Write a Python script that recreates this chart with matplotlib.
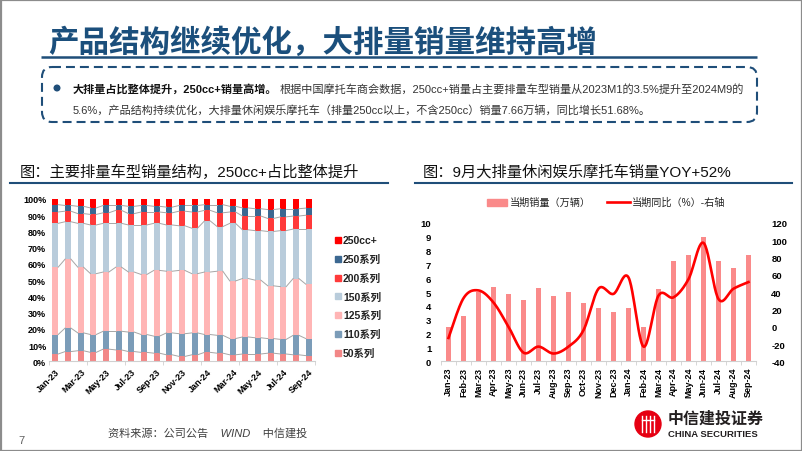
import numpy as np
import matplotlib
matplotlib.use('Agg')
import matplotlib.pyplot as plt
from matplotlib.patches import Rectangle, FancyBboxPatch, Circle
from matplotlib.ticker import FixedLocator

plt.rcParams['font.family'] = ['Liberation Sans', 'Noto Sans CJK SC', 'DejaVu Sans']
plt.rcParams['axes.unicode_minus'] = False

# ---------------- data ----------------
months = ['Jan-23', 'Feb-23', 'Mar-23', 'Apr-23', 'May-23', 'Jun-23', 'Jul-23',
          'Aug-23', 'Sep-23', 'Oct-23', 'Nov-23', 'Dec-23', 'Jan-24', 'Feb-24',
          'Mar-24', 'Apr-24', 'May-24', 'Jun-24', 'Jul-24', 'Aug-24', 'Sep-24']

# share of sales by displacement class (%)
share_50 = [4.5, 6, 6.5, 5.5, 7.5, 7, 6, 5.5, 5, 4, 3, 4, 5.5, 5, 4, 4.5, 4.5, 5, 4.5, 4, 3.5]
share_110 = [12, 14.5, 11, 11, 11, 11.5, 12, 11, 10.5, 13.5, 14, 13.5, 11, 11, 10, 10.5, 10, 9, 9, 12, 10.5]
share_125 = [41.5, 42.5, 40.5, 37.5, 36.5, 39.5, 37, 37, 40.5, 38, 39, 36.5, 38.5, 39.5, 35.5, 36, 35.5, 32.5, 32.5, 35, 33.5]
share_150 = [27, 23, 27, 30, 30, 27, 29, 30.5, 29, 28.5, 27.5, 28, 31.5, 27.5, 35.5, 30, 30.5, 33.5, 34.5, 30.5, 34]
share_200 = [7, 6.5, 6, 6.5, 6.5, 8, 7, 8, 7, 7.5, 9, 10, 6.5, 8.5, 7, 8.5, 9, 8, 8.5, 8, 8.5]
share_250 = [4.5, 3.5, 4.5, 4, 4.5, 3, 4.5, 4, 3.5, 3.5, 3.5, 4, 3.5, 5, 3.5, 5, 4.5, 5.5, 5, 4.5, 4.4]
share_250p = [3.5, 4, 4.5, 5.5, 4, 4, 4.5, 4, 4.5, 5, 4, 4, 3.5, 3.5, 4.5, 5.5, 6, 6.5, 6, 6, 5.6]

series_names = ['50系列', '110系列', '125系列', '150系列', '200系列', '250系列', '250cc+']
series_vals = [share_50, share_110, share_125, share_150, share_200, share_250, share_250p]
series_colors = ['#F28787', '#7B9CB8', '#FFB5B5', '#B9CCDB', '#FF3A3A', '#3C6891', '#FF0000']

# big-displacement leisure motorcycles
sales = [2.45, 3.25, 5.0, 5.4, 4.87, 4.46, 5.3, 4.75, 5.0, 4.2, 3.83, 3.54, 3.83, 2.46,
         5.23, 7.23, 7.69, 8.96, 7.23, 6.77, 7.66]
yoy = [-13, 33, 42, 28, 0, -30, -23, -31, -23, -4, 44, 38, 57, -23,
       36, 34, 55, 97, 32, 44, 51.68]

BLUE = '#1F4E79'

fig = plt.figure(figsize=(8.02, 4.52), dpi=100)

# overlay in pixel coordinates
ov = fig.add_axes([0, 0, 1, 1])
ov.set_xlim(0, 802)
ov.set_ylim(452, 0)
ov.axis('off')

ov.add_patch(Rectangle((0.5, 0.5), 801, 451, fill=False, ec='#8C8C8C', lw=1.6))

ov.text(48, 43, '产品结构继续优化，大排量销量维持高增', fontsize=22, fontweight='bold',
        color='#1B4F7C', va='center', ha='left', family=['Noto Sans CJK SC'])
ov.plot([41, 757], [58, 58], color=BLUE, lw=1.8, solid_capstyle='butt')

ov.add_patch(FancyBboxPatch((42, 68), 715, 55, boxstyle='round,pad=0,rounding_size=10',
                            fill=False, ec=BLUE, lw=1.5, ls=(0, (4.3, 2.4))))
ov.add_patch(Circle((57, 89), 2.8, color=BLUE))

bold_part = '大排量占比整体提升，250cc+销量高增。'
normal_part = '根据中国摩托车商会数据，250cc+销量占主要排量车型销量从2023M1的3.5%提升至2024M9的'
line2 = '5.6%，产品结构持续优化，大排量休闲娱乐摩托车（排量250cc以上，不含250cc）销量7.66万辆，同比增长51.68%。'
t1 = ov.text(73, 89, bold_part, fontsize=8, fontweight='bold', color='#111111',
             va='center', ha='left')
fig.canvas.draw()
bb = t1.get_window_extent(fig.canvas.get_renderer())
ov.text(bb.x1 + 2, 89, normal_part, fontsize=8, color='#333333', va='center', ha='left')
ov.text(73, 110, line2, fontsize=8, color='#333333', va='center', ha='left')

# subtitles
ov.text(20, 172, '图：主要排量车型销量结构，250cc+占比整体提升', fontsize=11, color='#111111',
        va='center', ha='left')
ov.plot([10, 388], [184, 184], color=BLUE, lw=1.5)
ov.text(423, 172, '图：9月大排量休闲娱乐摩托车销量YOY+52%', fontsize=11, color='#111111',
        va='center', ha='left')
ov.plot([415, 792], [184, 184], color=BLUE, lw=1.5)

# footer
ov.text(108, 433, '资料来源：公司公告    WIND    中信建投', fontsize=8, color='#404040',
        va='center', ha='left', style='italic')
ov.text(18, 441, '7', fontsize=8, color='#606060', va='center', ha='left')

# logo
ov.add_patch(Circle((648, 425), 13, color='#E60012'))
for dx in (-6, -2, 2, 6):
    ov.plot([648 + dx, 648 + dx], [417, 433], color='white', lw=1.0)
ov.plot([642, 654], [421, 421], color='white', lw=1.0)
ov.text(668, 419, '中信建投证券', fontsize=11.5, fontweight='bold', color='#231F20',
        va='center', ha='left', family=['Noto Sans CJK SC'])
ov.text(668, 435, 'CHINA SECURITIES', fontsize=6.8, fontweight='bold', color='#231F20',
        va='center', ha='left')

# ---------------- left chart ----------------
x = np.arange(len(months))
axL = fig.add_axes([49 / 802, (452 - 362.3) / 452, 266 / 802, 162.3 / 452])
axL.patch.set_alpha(0)
w = 0.45
bottom = np.zeros(len(months))
for name, vals, col in zip(series_names, series_vals, series_colors):
    v = np.array(vals) / 100.0
    axL.bar(x, v, w, bottom=bottom, color=col, zorder=2)
    bottom = bottom + v
    if name != '250cc+':
        for i in range(len(x) - 1):
            axL.plot([x[i] + w / 2, x[i + 1] - w / 2], [bottom[i], bottom[i + 1]],
                     color='#A6A6A6', lw=0.7, zorder=3)
axL.set_xlim(-0.5, len(months) - 0.5)
axL.set_ylim(0, 1)
axL.set_yticks(np.linspace(0, 1, 11))
axL.set_yticklabels([f'{int(round(t * 100))}%' for t in np.linspace(0, 1, 11)],
                    fontsize=6.5, fontweight='bold')
axL.tick_params(axis='y', length=0, pad=2)
axL.set_xticks(x[::2])
axL.set_xticklabels(months[::2], rotation=45, ha='right', rotation_mode='anchor',
                    fontsize=6.5, fontweight='bold')
axL.tick_params(axis='x', length=0, pad=4)
axL.xaxis.set_minor_locator(FixedLocator(np.arange(-0.5, len(months), 3)))
axL.tick_params(axis='x', which='minor', length=3, color='#D0D0D0')
for s in ['top', 'right', 'left']:
    axL.spines[s].set_visible(False)
axL.spines['bottom'].set_color('#D0D0D0')

# left legend
for k, (name, col) in enumerate(zip(series_names[::-1], series_colors[::-1])):
    yy = 241 + k * 18.8
    ov.add_patch(Rectangle((335, yy - 3), 6, 6, color=col))
    ov.text(343, yy, name, fontsize=7.5, fontweight='bold', color='#222222',
            va='center', ha='left')

# ---------------- right chart ----------------
axR = fig.add_axes([441 / 802, (452 - 362.3) / 452, 315 / 802, (362.3 - 224) / 452])
axR.patch.set_alpha(0)
axR.bar(x, sales, 0.35, color='#FA8A8A', zorder=2)
axR.set_xlim(-0.5, len(months) - 0.5)
axR.set_ylim(0, 10)
axR.set_yticks(range(0, 11))
axR.tick_params(axis='y', length=0, pad=7, labelsize=6.8)
for lab in axR.get_yticklabels():
    lab.set_fontweight('bold')
axR.set_xticks(x)
axR.set_xticklabels(months, rotation=90, fontsize=6.5, fontweight='bold')
axR.tick_params(axis='x', length=0, pad=4)
axR.xaxis.set_minor_locator(FixedLocator(np.arange(-0.5, len(months), 1)))
axR.tick_params(axis='x', which='minor', length=3, color='#D0D0D0')
for s in ['top', 'right', 'left']:
    axR.spines[s].set_visible(False)
axR.spines['bottom'].set_color('#D0D0D0')

axR2 = axR.twinx()
axR2.set_ylim(-40, 120)
axR2.set_yticks(range(-40, 121, 20))
axR2.tick_params(axis='y', length=0, pad=11, labelsize=6.8)
for lab in axR2.get_yticklabels():
    lab.set_fontweight('bold')
for s in axR2.spines.values():
    s.set_visible(False)


def catmull(xs, ys, n=24):
    P = np.column_stack([xs, ys]).astype(float)
    P = np.vstack([P[0], P, P[-1]])
    out = []
    t = np.linspace(0, 1, n, endpoint=False)[:, None]
    for i in range(1, len(P) - 2):
        p0, p1, p2, p3 = P[i - 1], P[i], P[i + 1], P[i + 2]
        seg = 0.5 * (2 * p1 + (-p0 + p2) * t + (2 * p0 - 5 * p1 + 4 * p2 - p3) * t ** 2
                     + (-p0 + 3 * p1 - 3 * p2 + p3) * t ** 3)
        out.append(seg)
    out.append(P[-2][None])
    return np.vstack(out)


curve = catmull(x, yoy)
axR2.plot(curve[:, 0], curve[:, 1], color='#FF0000', lw=1.9, zorder=4)

# right legend
ov.add_patch(Rectangle((487, 200), 20, 6.5, color='#FA8A8A'))
ov.text(510, 203, '当期销量（万辆）', fontsize=7.3, color='#222222', va='center', ha='left')
ov.plot([607, 630], [203, 203], color='#FF0000', lw=1.9)
ov.text(632, 203, '当期同比（%）-右轴', fontsize=7.3, color='#222222', va='center', ha='left')

fig.savefig('out.png', dpi=100)
